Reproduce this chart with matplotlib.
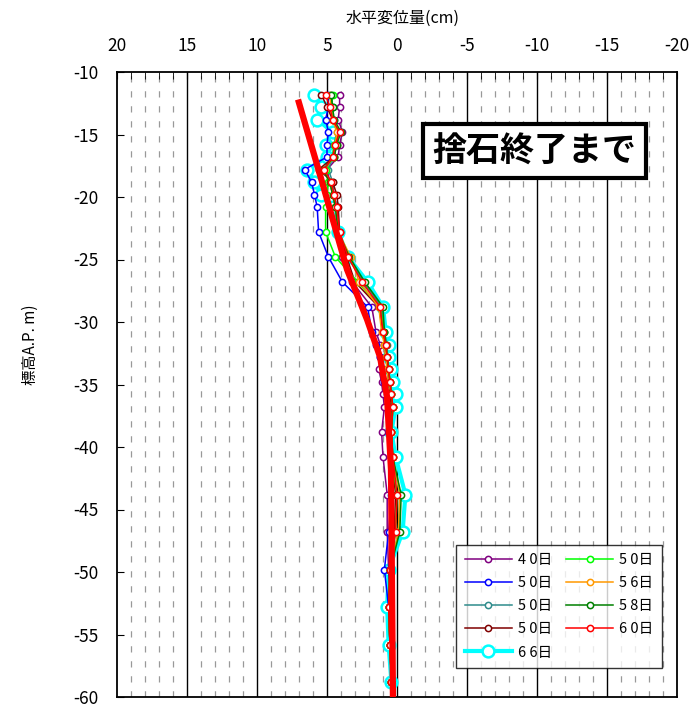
import numpy as np
import matplotlib
matplotlib.use("Agg")
import matplotlib.pyplot as plt
from matplotlib.ticker import MultipleLocator

plt.rcParams['font.family'] = ['Liberation Sans Narrow', 'Noto Sans CJK JP', 'DejaVu Sans']
plt.rcParams['axes.unicode_minus'] = False

# ─── data (depth A.P. m, horizontal displacement cm) ───
depth = [-11.8, -12.8, -13.8, -14.8, -15.8, -16.8, -17.8, -18.8, -19.8, -20.8,
         -22.8, -24.8, -26.8, -28.8, -30.8, -31.8, -32.8, -33.8, -34.8, -35.8,
         -36.8, -38.8, -40.8, -43.8, -46.8, -49.8, -52.8, -55.8, -58.8]

purple = [4.1, 4.1, 4.2, 3.9, 4.1, 4.2, 5.0, 4.8, 4.6, 4.4, 4.2, 3.9, 3.2, 1.8, 1.5,
          1.2, 1.2, 1.3, 1.1, 1.0, 0.9, 1.1, 1.0, 0.7, 0.7, 0.6, 0.5, 0.5, 0.4]
blue = [4.9, 4.9, 5.1, 4.9, 5.0, 5.0, 6.6, 6.1, 5.9, 5.7, 5.6, 4.9, 3.9, 2.1, 1.8,
        1.5, 1.2, 1.0, 0.9, 0.7, 0.6, 0.5, 0.4, 0.4, 0.6, 0.9, 0.6, 0.5, 0.4]
teal = [4.7, 4.6, 4.5, 4.3, 4.5, 4.6, 4.9, 4.6, 4.5, 4.4, 4.2, 3.5, 2.4, 1.1, 0.9,
        0.7, 0.7, 0.6, 0.5, 0.4, 0.3, 0.4, 0.3, -0.2, -0.1, 0.5, 0.6, 0.5, 0.4]
maroon = [5.4, 5.0, 4.6, 4.2, 4.3, 4.5, 5.6, 4.6, 4.3, 4.2, 4.1, 3.6, 3.0, 1.3, 1.0,
          0.9, 0.8, 0.7, 0.6, 0.5, 0.4, 0.4, 0.4, 0.1, 0.2, 0.5, 0.6, 0.5, 0.4]
cyan = [5.9, 5.4, 5.7, 4.6, 5.1, 5.0, 6.4, 5.9, 5.4, 4.6, 4.2, 3.5, 2.1, 1.0, 0.8,
        0.6, 0.6, 0.4, 0.3, 0.1, 0.1, 0.4, 0.1, -0.6, -0.4, 0.6, 0.7, 0.6, 0.4]
lime = [4.6, 4.7, 4.6, 4.2, 4.5, 4.6, 5.1, 4.9, 5.0, 5.1, 5.1, 4.4, 2.8, 1.2, 0.9,
        0.8, 0.7, 0.6, 0.5, 0.4, 0.3, 0.4, 0.4, 0.0, 0.1, 0.5, 0.6, 0.5, 0.4]
orange = [4.8, 4.7, 4.6, 4.3, 4.4, 4.5, 5.2, 4.8, 4.6, 4.4, 4.2, 3.3, 2.7, 1.3, 1.1,
          0.9, 0.8, 0.7, 0.6, 0.4, 0.3, 0.4, 0.3, -0.2, -0.1, 0.5, 0.6, 0.5, 0.4]
green = [4.7, 4.6, 4.5, 4.0, 4.3, 4.5, 5.3, 4.8, 4.6, 4.4, 4.2, 3.4, 2.3, 1.0, 0.9,
         0.8, 0.7, 0.6, 0.5, 0.4, 0.3, 0.4, 0.3, -0.3, -0.2, 0.5, 0.6, 0.5, 0.4]
red = [5.1, 4.8, 4.6, 4.1, 4.4, 4.6, 5.2, 4.7, 4.5, 4.3, 4.1, 3.5, 2.5, 1.2, 1.0,
       0.8, 0.7, 0.6, 0.5, 0.4, 0.3, 0.4, 0.3, 0.0, 0.1, 0.5, 0.6, 0.5, 0.4]

# thick red reference curve
ref_depth = [-12.2, -19.0, -25.8, -29.8, -32.8, -36.0, -41.8, -60.0]
ref_disp = [7.07, 5.3, 3.57, 2.14, 1.21, 0.71, 0.43, 0.29]

labels = ["4 0日", "5 0日", "5 0日", "5 0日", "6 6日", "5 0日", "5 6日", "5 8日", "6 0日"]
series = [purple, blue, teal, maroon, cyan, lime, orange, green, red]
colors = ["#800080", "#0000FF", "#2E8B8B", "#800000", "#00FFFF",
          "#00FF00", "#FF9900", "#008000", "#FF0000"]

fig = plt.figure(figsize=(6.91, 7.09), dpi=100)
ax = fig.add_axes([117/691, 1 - 697/709, 560/691, 625/709])

# grid lines
for xv in range(-19, 20):
    if xv % 5 == 0:
        ax.axvline(xv, color='black', lw=1.0, zorder=1)
    else:
        ax.axvline(xv, color='#999999', lw=0.9, ls=(0, (5, 7)), zorder=1)

for i, (vals, lab, col) in enumerate(zip(series, labels, colors)):
    if col == "#00FFFF":
        ax.plot(vals, depth, color=col, lw=3.0, marker='o', ms=8.5,
                mfc='white', mec=col, mew=1.8, label=lab, zorder=3)
    else:
        ax.plot(vals, depth, color=col, lw=1.1, marker='o', ms=4.5,
                mfc='white', mec=col, mew=1.1, label=lab, zorder=4)

ax.plot(ref_disp, ref_depth, color='#FF0000', lw=4.5, zorder=6,
        solid_capstyle='butt', label='_nolegend_')

ax.set_xlim(20, -20)
ax.set_ylim(-60, -10)
ax.xaxis.tick_top()
ax.xaxis.set_major_locator(MultipleLocator(5))
ax.xaxis.set_minor_locator(MultipleLocator(1))
ax.yaxis.set_major_locator(MultipleLocator(5))
ax.tick_params(axis='x', which='both', direction='in', top=True, bottom=False,
               labelsize=12.5, length=5, pad=12)
ax.tick_params(axis='y', direction='in', left=True, right=False,
               labelsize=12.5, length=5, pad=13)
ax.set_xticklabels([f"{int(v)}" for v in ax.get_xticks()])
ax.set_yticklabels([f"{int(v)}" for v in ax.get_yticks()])
for sp in ax.spines.values():
    sp.set_linewidth(1.3)

fig.text(403/691, 1 - 18/709, "水平変位量(cm)", ha='center', va='center', fontsize=11.5)
fig.text(30/691, 1 - 345/709, "標高A.P. m)", ha='center', va='center',
         rotation=90, fontsize=11)

ax.text(0.746, 0.873, "捨石終了まで", transform=ax.transAxes, ha='center',
        va='center', fontsize=24.5, fontweight='bold', zorder=8,
        bbox=dict(boxstyle='square,pad=0.28', fc='white', ec='black', lw=3))

leg = ax.legend(ncol=2, loc='lower right', bbox_to_anchor=(0.973, 0.046),
                borderaxespad=0, fontsize=10.5, frameon=True, fancybox=False,
                edgecolor='black', handlelength=3.2, columnspacing=1.0,
                labelspacing=0.62, borderpad=0.6, handletextpad=0.4)
leg.get_frame().set_linewidth(1.0)
leg.set_zorder(9)

fig.savefig("out.png", dpi=100)
